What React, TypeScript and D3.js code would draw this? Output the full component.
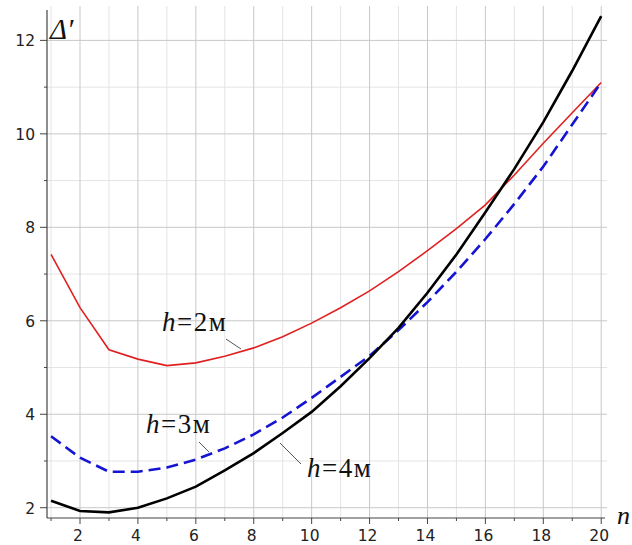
import React from 'react';
import * as d3 from 'd3';

const nValues = d3.range(1, 21);
const h2 = [7.42, 6.28, 5.38, 5.18, 5.04, 5.1, 5.24, 5.42, 5.66, 5.95, 6.28, 6.64, 7.05, 7.5, 7.97, 8.48, 9.12, 9.8, 10.45, 11.1];
const h3 = [3.53, 3.07, 2.77, 2.77, 2.86, 3.03, 3.27, 3.57, 3.93, 4.35, 4.8, 5.25, 5.8, 6.4, 7.05, 7.75, 8.5, 9.3, 10.2, 11.1];
const h4 = [2.15, 1.93, 1.9, 2.0, 2.2, 2.45, 2.8, 3.17, 3.6, 4.05, 4.6, 5.2, 5.85, 6.6, 7.42, 8.32, 9.25, 10.25, 11.35, 12.52];
const xTicks = [2, 4, 6, 8, 10, 12, 14, 16, 18, 20];
const yTicks = [2, 4, 6, 8, 10, 12];

const W = 632;
const H = 545;

const App = () => {
	const x = d3.scaleLinear().domain([0.86, 20.2]).range([47, 607]);
	const y = d3.scaleLinear().domain([1.78, 12.65]).range([518, 10]);
	const line = (vals: number[]) =>
		d3.line<number>().x((d, i) => x(nValues[i])).y((d) => y(d))(vals) as string;

	const minorX = d3.range(1, 21).filter((d) => d % 2 === 1);
	const minorY = d3.range(3, 13).filter((d) => d % 2 === 1);
	const tickFont = 'DejaVu Sans, sans-serif';
	const serif = 'Liberation Serif, Times New Roman, serif';

	return (
		<svg width={W} height={H} style={{ position: 'absolute', left: 0, top: 0, background: '#fff' }}>
			{/* grid */}
			{minorX.map((d) => (
				<line key={'mx' + d} x1={x(d)} x2={x(d)} y1={6} y2={518} stroke="#e4e4e4" strokeWidth={1} />
			))}
			{minorY.map((d) => (
				<line key={'my' + d} x1={47} x2={607} y1={y(d)} y2={y(d)} stroke="#e4e4e4" strokeWidth={1} />
			))}
			{xTicks.map((d) => (
				<line key={'gx' + d} x1={x(d)} x2={x(d)} y1={6} y2={518} stroke="#c8c8c8" strokeWidth={1} />
			))}
			{yTicks.map((d) => (
				<line key={'gy' + d} x1={47} x2={607} y1={y(d)} y2={y(d)} stroke="#c8c8c8" strokeWidth={1} />
			))}

			{/* axes */}
			<line x1={47} x2={47} y1={10} y2={518} stroke="#444" strokeWidth={1.2} />
			<line x1={47} x2={605} y1={518} y2={518} stroke="#444" strokeWidth={1.2} />
			{yTicks.map((d) => (
				<g key={'ty' + d}>
					<line x1={40} x2={47} y1={y(d)} y2={y(d)} stroke="#444" />
					<text x={35} y={y(d) + 6} textAnchor="end" fontFamily={tickFont} fontSize={15.5} fill="#222">
						{d}
					</text>
				</g>
			))}
			{minorY.map((d) => (
				<line key={'tmy' + d} x1={44} x2={47} y1={y(d)} y2={y(d)} stroke="#444" />
			))}
			{xTicks.map((d) => (
				<g key={'tx' + d}>
					<line x1={x(d)} x2={x(d)} y1={518} y2={524} stroke="#444" />
					<text x={x(d) - 2} y={541} textAnchor="middle" fontFamily={tickFont} fontSize={15.5} fill="#222">
						{d}
					</text>
				</g>
			))}
			{minorX.map((d) => (
				<line key={'tmx' + d} x1={x(d)} x2={x(d)} y1={518} y2={521} stroke="#444" />
			))}

			{/* curves */}
			<path d={line(h2)} fill="none" stroke="#e02020" strokeWidth={1.6} />
			<path d={line(h3)} fill="none" stroke="#1414d2" strokeWidth={2.6} strokeDasharray="12,6" />
			<path d={line(h4)} fill="none" stroke="#000" strokeWidth={2.6} />

			{/* labels */}
			<text x={50} y={39} fontFamily={serif} fontStyle="italic" fontSize={29} fill="#111">
				Δ′
			</text>
			<text x={617} y={524} fontFamily={serif} fontStyle="italic" fontSize={26} fill="#111">
				n
			</text>

			<text x={162} y={331} fontFamily={serif} fontSize={27} letterSpacing={1.5} fill="#111">
				<tspan fontStyle="italic">h</tspan>=2м
			</text>
			<line x1={226} x2={241} y1={339} y2={349} stroke="#555" strokeWidth={1} />

			<text x={146} y={433} fontFamily={serif} fontSize={27} letterSpacing={1.5} fill="#111">
				<tspan fontStyle="italic">h</tspan>=3м
			</text>
			<line x1={199} x2={209} y1={442} y2={452} stroke="#555" strokeWidth={1} />

			<text x={307} y={477} fontFamily={serif} fontSize={27} letterSpacing={1.5} fill="#111">
				<tspan fontStyle="italic">h</tspan>=4м
			</text>
			<line x1={280} x2={301} y1={443} y2={464} stroke="#555" strokeWidth={1} />
		</svg>
	);
};

export default App;
